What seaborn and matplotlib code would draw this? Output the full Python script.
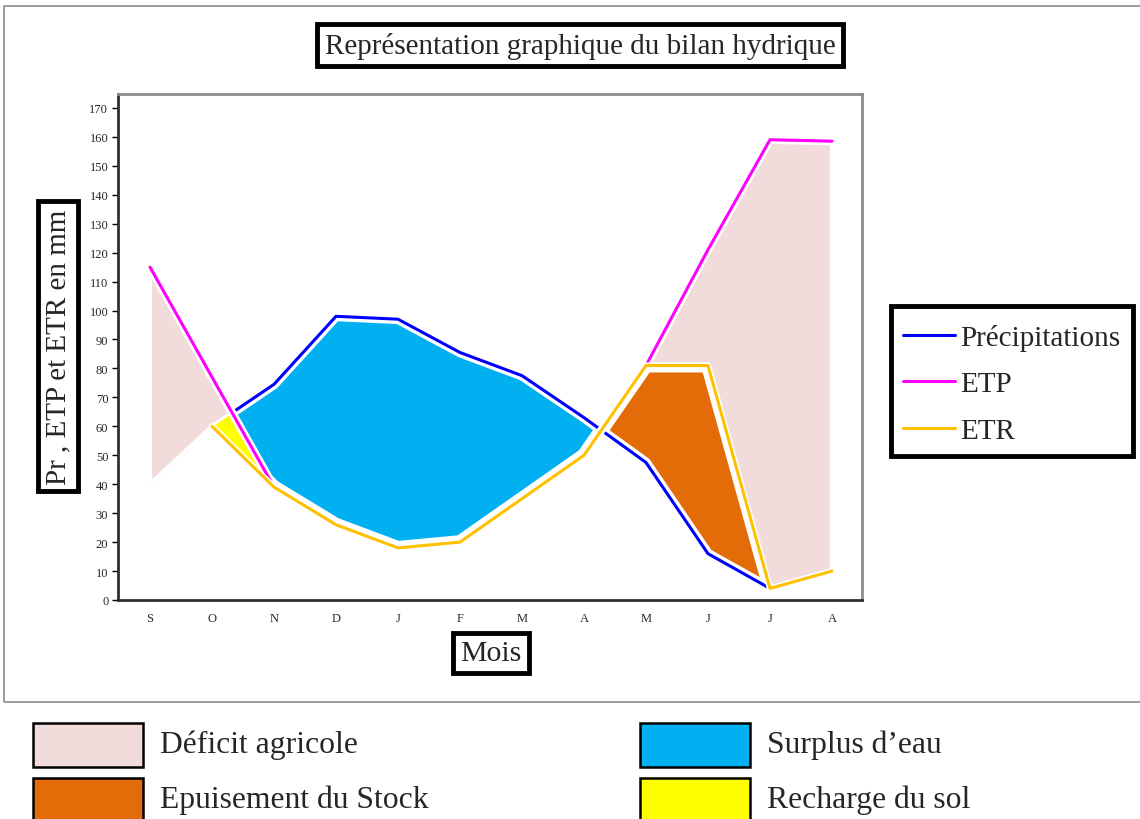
import numpy as np
import matplotlib
matplotlib.use("Agg")
import matplotlib.pyplot as plt
import matplotlib.patheffects as pe
from matplotlib.patches import Rectangle
from matplotlib.lines import Line2D
import seaborn as sns

# Monthly water balance (mm), hydrological year September -> August
mois = ["S", "O", "N", "D", "J", "F", "M", "A", "M", "J", "J", "A"]
precipitations = [40, 60, 74.5, 98, 97, 85.5, 77.5, 63, 47.5, 16, 4, 10]
etp = [115, 77, 39, 26, 18, 20, 35, 50, 81, 121, 159, 158.5]
etr = [40, 60, 39, 26, 18, 20, 35, 50, 81, 81, 4, 10]

yticks = list(range(0, 171, 10))

zones = ["Déficit agricole", "Surplus d’eau", "Epuisement du Stock", "Recharge du sol"]
zone_colors = {"Déficit agricole": "#F2DCDB", "Surplus d’eau": "#00B0F0",
               "Epuisement du Stock": "#E36C09", "Recharge du sol": "#FFFF00"}
line_colors = {"Précipitations": "#0000FF", "ETP": "#FF00FF", "ETR": "#FFC000"}

sns.set_theme(style="white")
plt.rcParams["font.family"] = ["Liberation Serif", "DejaVu Serif"]

W, H = 1140, 820
fig = plt.figure(figsize=(W / 100, H / 100), dpi=100)
fig.patch.set_facecolor("white")

# outer frame of the chart area
fig.patches.append(Rectangle((4 / W, 1 - 703 / H), 1.2, (703 - 7) / H,
                             transform=fig.transFigure, fill=False,
                             ec="#8c8c8c", lw=1.2))

ax = fig.add_axes([118 / W, 1 - 601 / H, (862 - 118) / W, (601 - 95) / H])

x = np.arange(len(mois))
P = np.array(precipitations, dtype=float)
E = np.array(etp, dtype=float)
R = np.array(etr, dtype=float)

# dense sampling of the piecewise-linear curves for the coloured zones
xf = np.linspace(x[0], x[-1], 2201)
Pf = np.interp(xf, x, P)
Ef = np.interp(xf, x, E)
Rf = np.interp(xf, x, R)
top_def = np.maximum(Pf, Rf)
top_rech = np.minimum(Pf, Ef)

ax.fill_between(xf, Ef, Pf, where=Pf > Ef + 1e-9, interpolate=True,
                color=zone_colors["Surplus d’eau"], lw=0, zorder=1)
ax.fill_between(xf, Pf, Rf, where=Rf > Pf + 1e-9, interpolate=True,
                color=zone_colors["Epuisement du Stock"], lw=0, zorder=1)

halo = lambda w: [pe.Stroke(linewidth=w, foreground="white"), pe.Normal()]

# wide white band along ETR separating it from the surplus / depletion zones
ax.plot(x[1:], R[1:], color="white", lw=10, solid_capstyle="butt", zorder=2)

sns.lineplot(x=x, y=P, ax=ax, color=line_colors["Précipitations"], lw=2.2,
             zorder=2.2, path_effects=halo(7), sort=False)

ax.fill_between(xf, top_def, Ef, where=Ef > top_def + 1e-9, interpolate=True,
                facecolor=zone_colors["Déficit agricole"], edgecolor="white",
                lw=3, zorder=3)
ax.fill_between(xf, Rf, top_rech, where=top_rech > Rf + 1e-9, interpolate=True,
                color=zone_colors["Recharge du sol"], lw=0, zorder=3)

sns.lineplot(x=x, y=E, ax=ax, color=line_colors["ETP"], lw=2.2,
             zorder=4, path_effects=halo(6), sort=False)
sns.lineplot(x=x[1:], y=R[1:], ax=ax, color=line_colors["ETR"], lw=2.2,
             zorder=5, path_effects=halo(4.5), sort=False)

ax.set_xlim(-0.516, 11.484)
ax.set_ylim(0, 174.8)
ax.set_xticks(x)
ax.set_xticklabels(mois)
ax.set_yticks(yticks)
ax.set_xlabel("")
ax.set_ylabel("")
ax.tick_params(axis="x", bottom=False, labelsize=9, pad=3)
ax.tick_params(axis="y", left=True, direction="out", length=4, width=1,
               color="black", labelsize=9, pad=3)
for side in ["left", "bottom"]:
    ax.spines[side].set_color("#303030")
    ax.spines[side].set_linewidth(2)
for side in ["top", "right"]:
    ax.spines[side].set_color("#8c8c8c")
    ax.spines[side].set_linewidth(2)

box = dict(boxstyle="square,pad=0.25", fc="white", ec="black", lw=3.5)
fig.text(580 / W, 1 - 46 / H, "Représentation graphique du bilan hydrique",
         ha="center", va="center", fontsize=21, bbox=box)
fig.text(58 / W, 1 - 347 / H, "Pr , ETP et ETR en mm", rotation=90,
         ha="center", va="center", fontsize=21, bbox=box)
fig.text(491 / W, 1 - 654 / H, "Mois", ha="center", va="center",
         fontsize=21.5, bbox=box)

# series legend inside a heavy black frame
fig.patches.append(Rectangle((891 / W, 1 - 457 / H), (1133 - 891) / W,
                             (457 - 307) / H, transform=fig.transFigure,
                             fc="white", ec="black", lw=3.5, zorder=0))
handles = [Line2D([], [], color=c, lw=2.2) for c in line_colors.values()]
leg = fig.legend(handles, list(line_colors.keys()), loc="center left",
                 bbox_to_anchor=(903 / W, 1 - 385 / H), fontsize=21,
                 frameon=False, handlelength=1.78, handletextpad=0.18,
                 labelspacing=0.68, borderpad=0, borderaxespad=0)

# zone key below the chart
key_pos = {"Déficit agricole": (33, 724), "Epuisement du Stock": (33, 779),
           "Surplus d’eau": (640, 724), "Recharge du sol": (640, 779)}
for name in zones:
    kx, ky = key_pos[name]
    fig.patches.append(Rectangle((kx / W, 1 - (ky + 44) / H), 110 / W, 44 / H,
                                 transform=fig.transFigure,
                                 fc=zone_colors[name], ec="black", lw=1.8))
    fig.text((kx + 127) / W, 1 - (ky + 21) / H, name, ha="left",
             va="center", fontsize=22.8)

fig.savefig("out.png", dpi=100, facecolor="white")
